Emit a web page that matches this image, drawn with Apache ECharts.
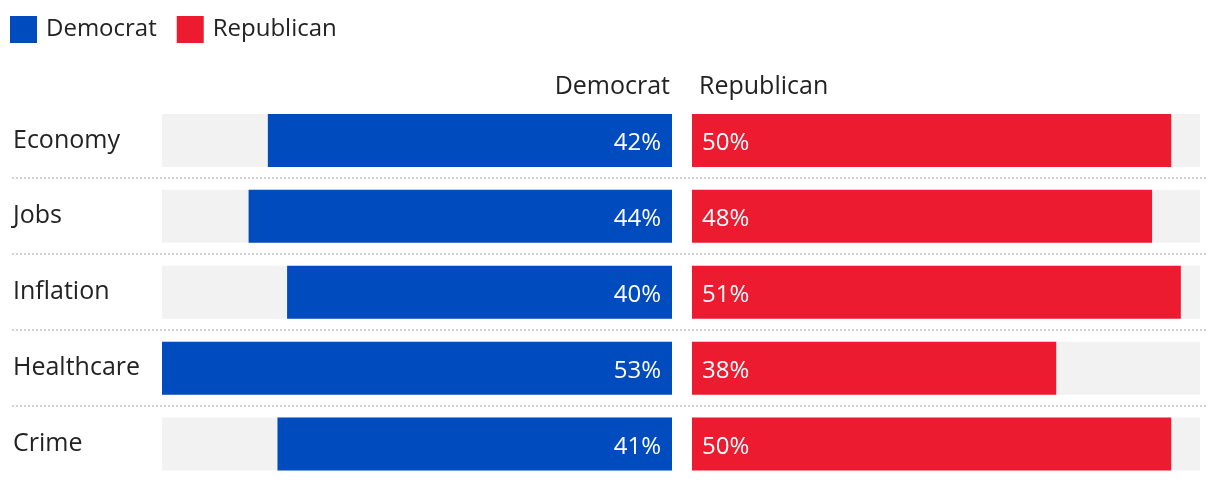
<!DOCTYPE html>
<html><head><meta charset="utf-8">
<script src="https://cdn.jsdelivr.net/npm/echarts@6/dist/echarts.min.js"></script>
<style>html,body{margin:0;padding:0;background:#fff}#c{width:1220px;height:482px}</style>
</head><body><div id="c"></div>
<script>
const categories = ['Economy','Jobs','Inflation','Healthcare','Crime'];
const democrat = [42,44,40,53,41];
const republican = [50,48,51,38,50];
const seriesNames = ['Democrat','Republican'];

const FONT = '"Open Sans", sans-serif';
const BLUE = '#004bbd', RED = '#ec1b30', GRAY = '#f2f2f2', INK = '#222';
const gridTop = 102.5, rowH = 76, nRows = categories.length;
const scaleMax = 53;

const chart = echarts.init(document.getElementById('c'));
const seps = [];
for (let i = 1; i < nRows; i++) {
  const y = Math.round(gridTop + i * rowH) - 1;
  seps.push({type:'line', shape:{x1:12,y1:y,x2:1208,y2:y}, style:{stroke:'#d4d4d4', lineWidth:2, lineDash:[2,2]}, silent:true});
}
chart.setOption({
  animation:false,
  textStyle:{fontFamily:FONT},
  legend:{
    data:seriesNames, left:10, top:16, padding:0, itemWidth:27, itemHeight:27, itemGap:20,
    icon:'rect', textStyle:{fontSize:24, color:INK, fontFamily:FONT, padding:[0,0,0,4]}
  },
  grid:[
    {left:162, width:510, top:gridTop, height:rowH*nRows},
    {left:692, width:508, top:gridTop, height:rowH*nRows}
  ],
  xAxis:[
    {gridIndex:0, type:'value', min:0, max:scaleMax, inverse:true, show:false},
    {gridIndex:1, type:'value', min:0, max:scaleMax, show:false}
  ],
  yAxis:[
    {gridIndex:0, type:'category', data:categories, inverse:true,
     axisLine:{show:false}, axisTick:{show:false}, splitLine:{show:false},
     axisLabel:{align:'left', margin:149, fontSize:25, color:INK, fontFamily:FONT, padding:[0,0,8,0]}},
    {gridIndex:1, type:'category', data:categories, inverse:true, show:false}
  ],
  series:[
    {name:seriesNames[0], type:'bar', xAxisIndex:0, yAxisIndex:0, data:democrat, barWidth:53,
     itemStyle:{color:BLUE}, showBackground:true, backgroundStyle:{color:GRAY},
     label:{show:true, position:'insideRight', distance:11, offset:[0,3], formatter:'{c}%', color:'#fff', fontSize:24, fontFamily:FONT}},
    {name:seriesNames[1], type:'bar', xAxisIndex:1, yAxisIndex:1, data:republican, barWidth:53,
     itemStyle:{color:RED}, showBackground:true, backgroundStyle:{color:GRAY},
     label:{show:true, position:'insideLeft', distance:10, offset:[0,3], formatter:'{c}%', color:'#fff', fontSize:24, fontFamily:FONT}}
  ],
  graphic:[
    {type:'text', x:670, y:87, style:{text:seriesNames[0], fill:INK, font:'25px '+FONT, textAlign:'right', textVerticalAlign:'middle'}},
    {type:'text', x:699, y:87, style:{text:seriesNames[1], fill:INK, font:'25px '+FONT, textAlign:'left', textVerticalAlign:'middle'}}
  ].concat(seps)
});
</script></body></html>
